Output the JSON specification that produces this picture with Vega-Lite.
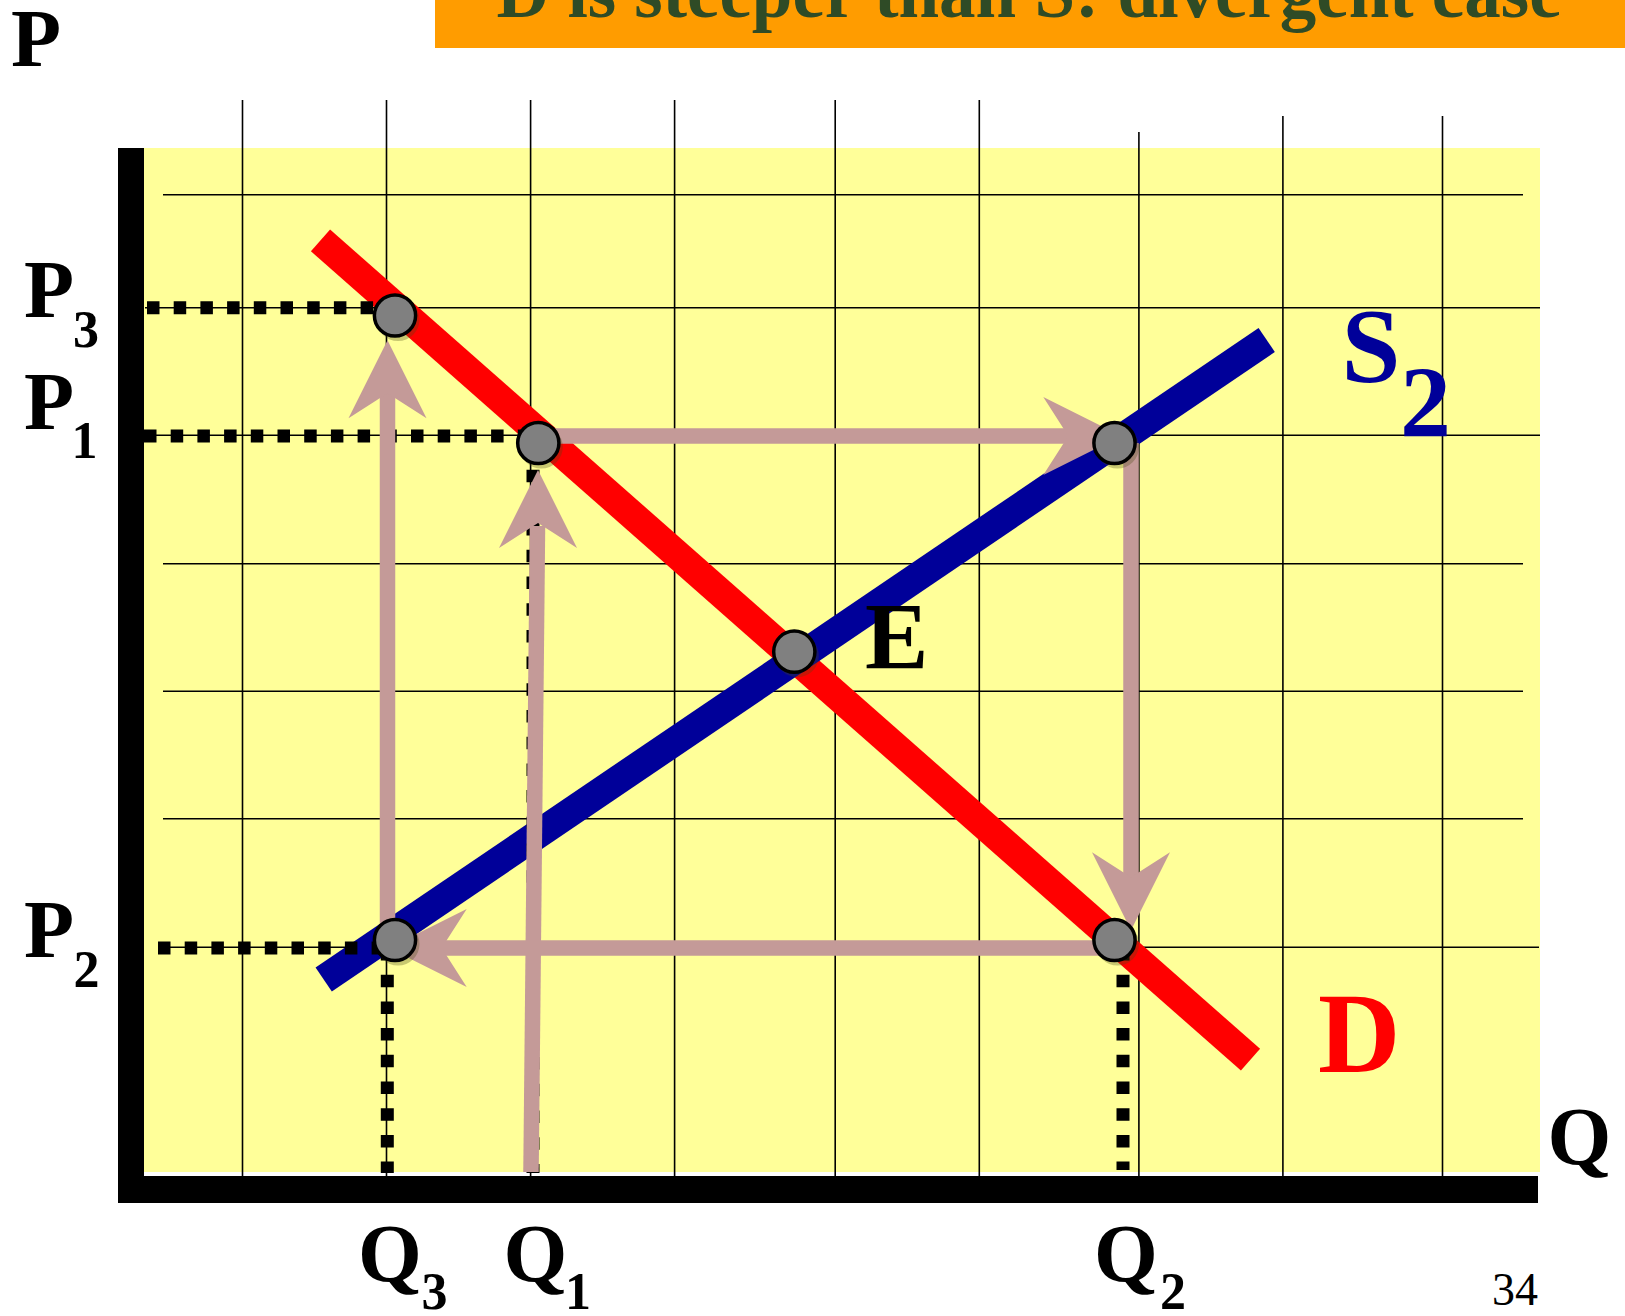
{
  "$schema": "https://vega.github.io/schema/vega-lite/v6.json",
  "width": 1625,
  "height": 1316,
  "padding": 0,
  "autosize": {"type": "none"},
  "background": "white",
  "config": {"view": {"stroke": null}},
  "datasets": {
    "panels": [
      {"q": 0, "p": 102.8, "q2": 139.6, "p2": 0.4, "kind": "bg"},
      {"q": -2.6, "p": 102.8, "q2": 0, "p2": -2.7, "kind": "axis"},
      {"q": -2.6, "p": 0, "q2": 139.4, "p2": -2.7, "kind": "axis"},
      {"q": 29.1, "p": 117.6, "q2": 148.1, "p2": 112.8, "kind": "banner"}
    ],
    "grid": [
      {"q": 9.85, "p": 107.6, "q2": 9.85, "p2": 0},
      {"q": 24.25, "p": 107.6, "q2": 24.25, "p2": 0},
      {"q": 38.66, "p": 107.6, "q2": 38.66, "p2": 0},
      {"q": 53.06, "p": 107.6, "q2": 53.06, "p2": 0},
      {"q": 69.12, "p": 107.6, "q2": 69.12, "p2": 0},
      {"q": 83.53, "p": 107.6, "q2": 83.53, "p2": 0},
      {"q": 99.49, "p": 104.4, "q2": 99.49, "p2": 0},
      {"q": 113.89, "p": 106.0, "q2": 113.89, "p2": 0},
      {"q": 129.85, "p": 106.0, "q2": 129.85, "p2": -2.7},
      {"q": 1.9, "p": 98.12, "q2": 137.9, "p2": 98.12},
      {"q": 0.1, "p": 86.82, "q2": 139.6, "p2": 86.82},
      {"q": 0.1, "p": 74.07, "q2": 139.6, "p2": 74.07},
      {"q": 1.9, "p": 61.22, "q2": 137.9, "p2": 61.22},
      {"q": 1.9, "p": 48.47, "q2": 137.9, "p2": 48.47},
      {"q": 1.9, "p": 35.73, "q2": 137.9, "p2": 35.73},
      {"q": 1.4, "p": 22.88, "q2": 139.5, "p2": 22.88}
    ],
    "dotted": [
      {"q": 0.3, "p": 86.83, "q2": 25.1, "p2": 86.83},
      {"q": 0.0, "p": 74.0, "q2": 39.4, "p2": 74.0},
      {"q": 1.4, "p": 22.8, "q2": 25.1, "p2": 22.8},
      {"q": 24.33, "p": 22.8, "q2": 24.33, "p2": 0.3},
      {"q": 97.9, "p": 22.8, "q2": 97.9, "p2": 0.6},
      {"q": 38.9, "p": 73.3, "q2": 38.9, "p2": 0.3}
    ],
    "curves": [
      {"q": 17.65, "p": 93.56, "q2": 110.65, "p2": 11.63, "curve": "D"},
      {"q": 17.97, "p": 19.65, "q2": 112.27, "p2": 83.6, "curve": "S2"}
    ],
    "shafts": [
      {"q": 38.7, "p": 0.4, "q2": 39.35, "p2": 65.0},
      {"q": 39.4, "p": 74.0, "q2": 92.6, "p2": 74.0},
      {"q": 98.7, "p": 73.3, "q2": 98.7, "p2": 29.7},
      {"q": 97.0, "p": 22.8, "q2": 29.6, "p2": 22.8},
      {"q": 24.35, "p": 24.4, "q2": 24.35, "p2": 78.5}
    ],
    "heads": [
      {"q": 39.4, "p": 66.7, "dir": "up"},
      {"q": 93.83, "p": 74.0, "dir": "right"},
      {"q": 98.7, "p": 28.47, "dir": "down"},
      {"q": 28.37, "p": 22.8, "dir": "left"},
      {"q": 24.35, "p": 79.67, "dir": "up"}
    ],
    "points": [
      {"q": 25.1, "p": 86.05, "name": "P3"},
      {"q": 39.43, "p": 73.3, "name": "P1 on D"},
      {"q": 97.05, "p": 73.3, "name": "P1 on S2"},
      {"q": 65.03, "p": 52.43, "name": "E"},
      {"q": 97.05, "p": 23.6, "name": "Q2 on D"},
      {"q": 25.1, "p": 23.6, "name": "P2 on S2"}
    ],
    "labels": [
      {"t": "P", "q": -13.3, "p": 111.0, "g": "big"},
      {"t": "P", "q": -12.0, "p": 85.87, "g": "big"},
      {"t": "P", "q": -12.0, "p": 74.67, "g": "big"},
      {"t": "P", "q": -12.0, "p": 21.87, "g": "big"},
      {"t": "Q", "q": 21.4, "p": -10.5, "g": "big"},
      {"t": "Q", "q": 35.95, "p": -10.5, "g": "big"},
      {"t": "Q", "q": 95.0, "p": -10.5, "g": "big"},
      {"t": "Q", "q": 140.35, "p": 1.2, "g": "big"},
      {"t": "3", "q": -7.1, "p": 82.93, "g": "sub"},
      {"t": "1", "q": -7.25, "p": 71.77, "g": "sub"},
      {"t": "2", "q": -7.05, "p": 18.93, "g": "sub"},
      {"t": "3", "q": 27.75, "p": -13.3, "g": "sub"},
      {"t": "1", "q": 42.1, "p": -13.3, "g": "sub"},
      {"t": "2", "q": 101.6, "p": -13.3, "g": "sub"},
      {"t": "E", "q": 72.1, "p": 50.67, "g": "E"},
      {"t": "S", "q": 119.75, "p": 79.4, "g": "S"},
      {"t": "2", "q": 125.6, "p": 73.93, "g": "S2sub"},
      {"t": "D", "q": 117.4, "p": 10.43, "g": "D"},
      {"t": "34", "q": 134.8, "p": -12.9, "g": "page"},
      {"t": "D is steeper than S: divergent case", "q": 88.5, "p": 115.9, "g": "title"}
    ]
  },
  "encoding": {
    "x": {"field": "q", "type": "quantitative", "scale": {"domain": [-14.4, 148.1], "nice": false, "zero": false}, "axis": null},
    "y": {"field": "p", "type": "quantitative", "scale": {"domain": [-14.0, 117.6], "nice": false, "zero": false}, "axis": null}
  },
  "layer": [
    {
      "data": {"name": "panels"},
      "transform": [{"filter": "datum.kind === 'bg'"}],
      "mark": {"type": "rect", "color": "#FFFF99"},
      "encoding": {"x2": {"field": "q2"}, "y2": {"field": "p2"}}
    },
    {
      "data": {"name": "panels"},
      "transform": [{"filter": "datum.kind === 'axis'"}],
      "mark": {"type": "rect", "color": "#000000"},
      "encoding": {"x2": {"field": "q2"}, "y2": {"field": "p2"}}
    },
    {
      "data": {"name": "panels"},
      "transform": [{"filter": "datum.kind === 'banner'"}],
      "mark": {"type": "rect", "color": "#FF9C00"},
      "encoding": {"x2": {"field": "q2"}, "y2": {"field": "p2"}}
    },
    {
      "data": {"name": "grid"},
      "mark": {"type": "rule", "color": "#000000", "strokeWidth": 1.6},
      "encoding": {"x2": {"field": "q2"}, "y2": {"field": "p2"}}
    },
    {
      "data": {"name": "curves"},
      "transform": [{"filter": "datum.curve === 'D'"}],
      "mark": {"type": "rule", "strokeWidth": 29, "strokeCap": "butt", "color": "#FF0000"},
      "encoding": {"x2": {"field": "q2"}, "y2": {"field": "p2"}}
    },
    {
      "data": {"name": "curves"},
      "transform": [{"filter": "datum.curve === 'S2'"}],
      "mark": {"type": "rule", "strokeWidth": 29, "strokeCap": "butt", "color": "#000099"},
      "encoding": {"x2": {"field": "q2"}, "y2": {"field": "p2"}}
    },
    {
      "data": {"name": "dotted"},
      "mark": {"type": "rule", "color": "#000000", "strokeWidth": 13, "strokeDash": [12.5, 14.2]},
      "encoding": {"x2": {"field": "q2"}, "y2": {"field": "p2"}}
    },
    {
      "data": {"name": "shafts"},
      "mark": {"type": "rule", "color": "#C49A98", "strokeWidth": 15.5, "strokeCap": "butt"},
      "encoding": {"x2": {"field": "q2"}, "y2": {"field": "p2"}}
    },
    {
      "data": {"name": "heads"},
      "transform": [{"filter": "datum.dir === 'up'"}],
      "mark": {"type": "point", "shape": "M0,-1L1,1L0,0.36L-1,1Z", "filled": true, "color": "#C49A98", "opacity": 1, "size": 6084, "strokeWidth": 0, "angle": 0}
    },
    {
      "data": {"name": "heads"},
      "transform": [{"filter": "datum.dir === 'right'"}],
      "mark": {"type": "point", "shape": "M0,-1L1,1L0,0.36L-1,1Z", "filled": true, "color": "#C49A98", "opacity": 1, "size": 6084, "strokeWidth": 0, "angle": 90}
    },
    {
      "data": {"name": "heads"},
      "transform": [{"filter": "datum.dir === 'down'"}],
      "mark": {"type": "point", "shape": "M0,-1L1,1L0,0.36L-1,1Z", "filled": true, "color": "#C49A98", "opacity": 1, "size": 6084, "strokeWidth": 0, "angle": 180}
    },
    {
      "data": {"name": "heads"},
      "transform": [{"filter": "datum.dir === 'left'"}],
      "mark": {"type": "point", "shape": "M0,-1L1,1L0,0.36L-1,1Z", "filled": true, "color": "#C49A98", "opacity": 1, "size": 6084, "strokeWidth": 0, "angle": 270}
    },
    {
      "data": {"name": "points"},
      "mark": {"type": "point", "shape": "circle", "filled": true, "color": "#4a4a14", "opacity": 0.3, "size": 1850, "xOffset": 3, "yOffset": 4, "strokeWidth": 0}
    },
    {
      "data": {"name": "points"},
      "mark": {"type": "point", "shape": "circle", "filled": true, "fill": "#808080", "stroke": "#000000", "strokeWidth": 3.5, "opacity": 1, "size": 1700}
    },
    {
      "data": {"name": "labels"},
      "transform": [{"filter": "datum.g === 'big'"}],
      "mark": {"type": "text", "font": "Liberation Serif", "fontWeight": "bold", "fontSize": 82, "align": "left", "baseline": "alphabetic", "color": "#000000"},
      "encoding": {"text": {"field": "t"}}
    },
    {
      "data": {"name": "labels"},
      "transform": [{"filter": "datum.g === 'sub'"}],
      "mark": {"type": "text", "font": "Liberation Serif", "fontWeight": "bold", "fontSize": 52, "align": "left", "baseline": "alphabetic", "color": "#000000"},
      "encoding": {"text": {"field": "t"}}
    },
    {
      "data": {"name": "labels"},
      "transform": [{"filter": "datum.g === 'E'"}],
      "mark": {"type": "text", "font": "Liberation Serif", "fontWeight": "bold", "fontSize": 95, "align": "left", "baseline": "alphabetic", "color": "#000000"},
      "encoding": {"text": {"field": "t"}}
    },
    {
      "data": {"name": "labels"},
      "transform": [{"filter": "datum.g === 'S'"}],
      "mark": {"type": "text", "font": "Liberation Serif", "fontWeight": "bold", "fontSize": 106, "align": "left", "baseline": "alphabetic", "color": "#000099"},
      "encoding": {"text": {"field": "t"}}
    },
    {
      "data": {"name": "labels"},
      "transform": [{"filter": "datum.g === 'S2sub'"}],
      "mark": {"type": "text", "font": "Liberation Serif", "fontWeight": "bold", "fontSize": 102, "align": "left", "baseline": "alphabetic", "color": "#000099"},
      "encoding": {"text": {"field": "t"}}
    },
    {
      "data": {"name": "labels"},
      "transform": [{"filter": "datum.g === 'D'"}],
      "mark": {"type": "text", "font": "Liberation Serif", "fontWeight": "bold", "fontSize": 114, "align": "left", "baseline": "alphabetic", "color": "#FF0000"},
      "encoding": {"text": {"field": "t"}}
    },
    {
      "data": {"name": "labels"},
      "transform": [{"filter": "datum.g === 'page'"}],
      "mark": {"type": "text", "font": "Liberation Serif", "fontSize": 46, "align": "left", "baseline": "alphabetic", "color": "#000000"},
      "encoding": {"text": {"field": "t"}}
    },
    {
      "data": {"name": "labels"},
      "transform": [{"filter": "datum.g === 'title'"}],
      "mark": {"type": "text", "font": "Liberation Serif", "fontWeight": "bold", "fontSize": 73, "align": "center", "baseline": "alphabetic", "color": "#2F4B26"},
      "encoding": {"text": {"field": "t"}}
    }
  ]
}
